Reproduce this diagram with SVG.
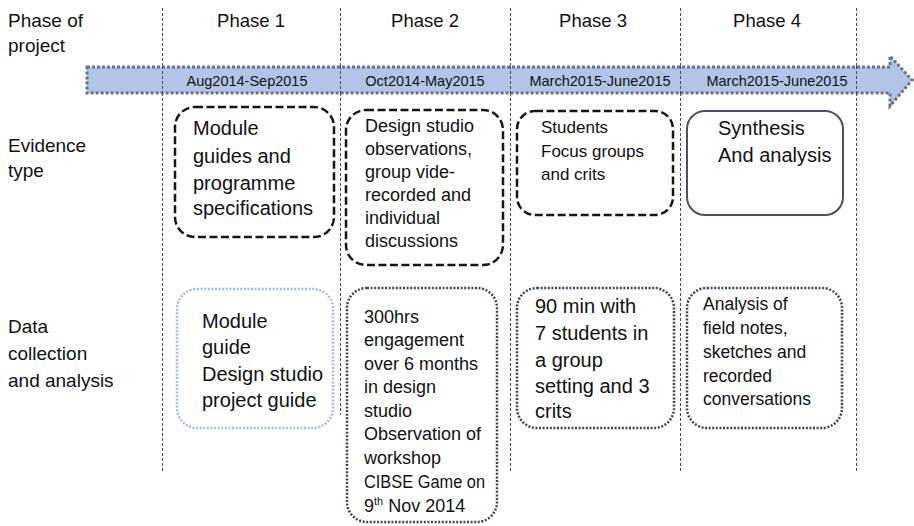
<svg xmlns="http://www.w3.org/2000/svg" width="914" height="526" viewBox="0 0 914 526">
<style>
text{font-family:"Liberation Sans",Arial,sans-serif;fill:#111}
.vl{stroke:#4a4a4a;stroke-width:1;stroke-dasharray:3 2;fill:none}
.dash{fill:#fff;stroke:#151515;stroke-width:2.5;stroke-dasharray:8 3.5}
.solid{fill:#fff;stroke:#4b5162;stroke-width:2}
.dot{fill:#fff;stroke:#3e4454;stroke-width:2.5;stroke-dasharray:2 1.6}
.dotb{fill:#fff;stroke:#a3bbe6;stroke-width:2.5;stroke-dasharray:2 1.6}
.hd{font-size:18.5px;text-anchor:middle}
.lab{font-size:19px}
.date{font-size:14.5px;text-anchor:middle}
</style>
<rect width="914" height="526" fill="#fff"/>
<g id="grid">
<line class="vl" x1="162.5" y1="8" x2="162.5" y2="472"/>
<line class="vl" x1="340.5" y1="8" x2="340.5" y2="415"/>
<line class="vl" x1="510.5" y1="8" x2="510.5" y2="472"/>
<line class="vl" x1="680.5" y1="8" x2="680.5" y2="473"/>
<line class="vl" x1="856.5" y1="8" x2="856.5" y2="473"/>
</g>
<g id="row-labels">
<text class="lab" x="8" y="27">Phase of</text>
<text class="lab" x="8" y="52">project</text>
<text class="lab" x="8" y="152">Evidence</text>
<text class="lab" x="8" y="177">type</text>
<text class="lab" x="8" y="333">Data</text>
<text class="lab" x="8" y="360">collection</text>
<text class="lab" x="8" y="387">and analysis</text>
</g>
<g id="phase-headers">
<text class="hd" x="251" y="27">Phase 1</text>
<text class="hd" x="425" y="27">Phase 2</text>
<text class="hd" x="593" y="27">Phase 3</text>
<text class="hd" x="767" y="27">Phase 4</text>
</g>
<g id="timeline">
<polygon points="87,67 890,67 890,56 912,80 890,106 890,93 87,93" fill="#b2c5e8" stroke="#6b7384" stroke-width="3" stroke-dasharray="3 2"/>
<line class="vl" x1="162.5" y1="66" x2="162.5" y2="94"/>
<line class="vl" x1="340.5" y1="66" x2="340.5" y2="94"/>
<line class="vl" x1="510.5" y1="66" x2="510.5" y2="94"/>
<line class="vl" x1="680.5" y1="66" x2="680.5" y2="94"/>
<line class="vl" x1="856.5" y1="66" x2="856.5" y2="94"/>
<text class="date" x="247" y="86">Aug2014-Sep2015</text>
<text class="date" x="425" y="86">Oct2014-May2015</text>
<text class="date" x="600" y="86">March2015-June2015</text>
<text class="date" x="777" y="86">March2015-June2015</text>
</g>
<g id="ev1">
<rect class="dash" x="175" y="107" width="159" height="130" rx="20"/>
<text font-size="20" x="193"><tspan x="193" y="135">Module</tspan><tspan x="193" y="163">guides and</tspan><tspan x="193" y="190">programme</tspan><tspan x="193" y="215">specifications</tspan></text>
</g>
<g id="ev2">
<rect class="dash" x="346" y="110" width="157" height="155" rx="20"/>
<text font-size="18"><tspan x="365" y="132">Design studio</tspan><tspan x="365" y="155">observations,</tspan><tspan x="365" y="178">group vide-</tspan><tspan x="365" y="201">recorded and</tspan><tspan x="365" y="224">individual</tspan><tspan x="365" y="247">discussions</tspan></text>
</g>
<g id="ev3">
<rect class="dash" x="517" y="111" width="156" height="104" rx="18"/>
<text font-size="17"><tspan x="541" y="133">Students</tspan><tspan x="541" y="157">Focus groups</tspan><tspan x="541" y="180">and crits</tspan></text>
</g>
<g id="ev4">
<rect class="solid" x="687" y="111" width="156" height="104" rx="18"/>
<text font-size="20"><tspan x="718" y="135">Synthesis</tspan><tspan x="718" y="162">And analysis</tspan></text>
</g>
<g id="dc1">
<rect class="dotb" x="177" y="289" width="156" height="139" rx="20"/>
<text font-size="20"><tspan x="202" y="328">Module</tspan><tspan x="202" y="354">guide</tspan><tspan x="202" y="381">Design studio</tspan><tspan x="202" y="407">project guide</tspan></text>
</g>
<g id="dc2">
<rect class="dot" x="347" y="288" width="150" height="234" rx="20"/>
<text font-size="18"><tspan x="364" y="323">300hrs</tspan><tspan x="364" y="346">engagement</tspan><tspan x="364" y="370">over 6 months</tspan><tspan x="364" y="393">in design</tspan><tspan x="364" y="417">studio</tspan><tspan x="364" y="440">Observation of</tspan><tspan x="364" y="464">workshop</tspan></text>
<text font-size="18" x="364" y="488" textLength="121" lengthAdjust="spacingAndGlyphs">CIBSE Game on</text>
<text font-size="18" x="364" y="512">9<tspan font-size="11" dy="-7">th</tspan><tspan dy="7"> Nov 2014</tspan></text>
</g>
<g id="dc3">
<rect class="dot" x="517" y="288" width="157" height="140" rx="20"/>
<text font-size="20"><tspan x="535" y="313">90 min with</tspan><tspan x="535" y="340">7 students in</tspan><tspan x="535" y="367">a group</tspan><tspan x="535" y="393">setting and 3</tspan><tspan x="535" y="418">crits</tspan></text>
</g>
<g id="dc4">
<rect class="dot" x="687" y="288" width="155" height="140" rx="20"/>
<text font-size="17.5"><tspan x="703" y="310">Analysis of</tspan><tspan x="703" y="334">field notes,</tspan><tspan x="703" y="358">sketches and</tspan><tspan x="703" y="382">recorded</tspan><tspan x="703" y="405">conversations</tspan></text>
</g>
</svg>
